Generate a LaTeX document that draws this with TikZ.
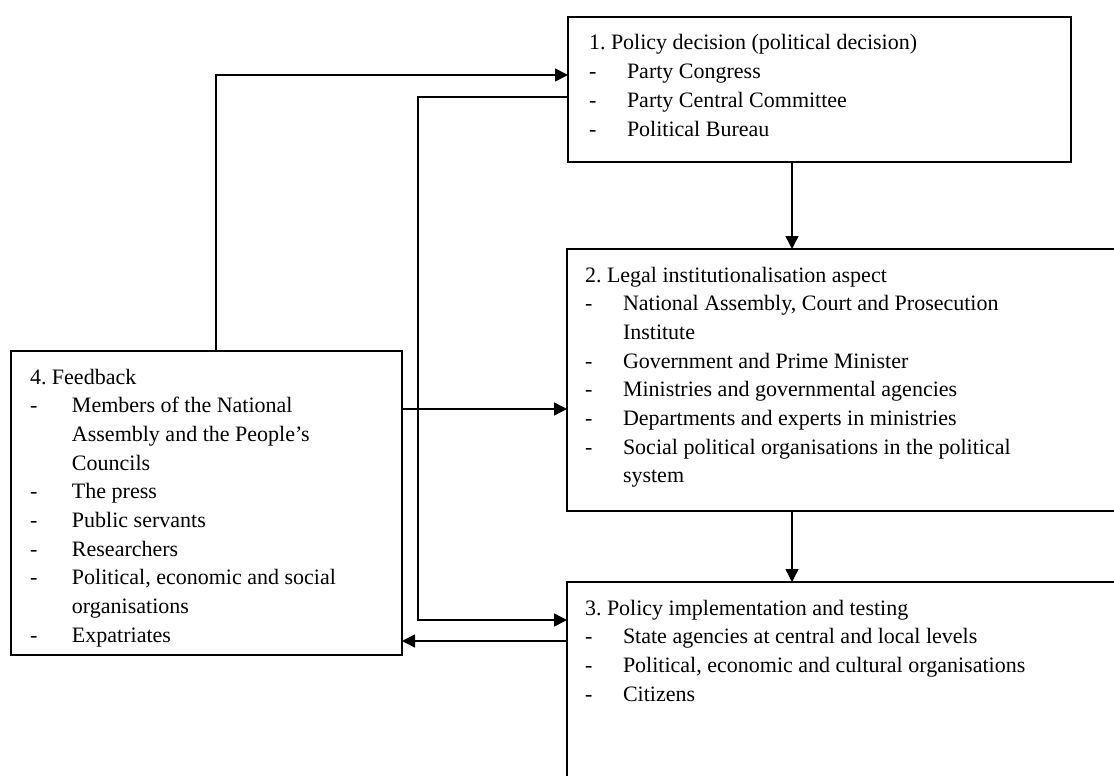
\documentclass[tikz,border=0pt]{standalone}
\usepackage{fontspec}
\setmainfont{Liberation Serif}
\usetikzlibrary{arrows.meta}
\frenchspacing
\newcommand\itm[2]{\makebox[#1][l]{-}#2}
\newcommand\cont[2]{\hspace*{#1}#2}
\tikzset{
  box/.style={draw, line width=2pt, inner sep=0pt, outer sep=0pt, anchor=north west},
  txt/.style={inner sep=0pt, outer sep=0pt, anchor=base west},
  arr/.style={line width=1.5pt, -{Triangle[length=13pt,width=13pt]}},
}
\begin{document}
\begin{tikzpicture}[x=1pt,y=-1pt]
\useasboundingbox (0,0) rectangle (1114,776);
\clip (0,0) rectangle (1114,776);
\fontsize{22}{28.7}\selectfont
% boxes
\node[box, minimum width=503pt, minimum height=145pt] (b1) at (568,17) {};
\node[box, minimum width=580pt, minimum height=262pt] (b2) at (567,249) {};
\node[box, minimum width=580pt, minimum height=240pt] (b3) at (567,582) {};
\node[box, minimum width=391pt, minimum height=304pt] (b4) at (11,351) {};
% texts
\node[txt] (t1) at (589,50) {\parbox[t]{470pt}{\fontsize{22}{28.7}\selectfont\frenchspacing
1. Policy decision (political decision)\\
\itm{38pt}{Party Congress}\\
\itm{38pt}{Party Central Committee}\\
\itm{38pt}{Political Bureau}}};
\node[txt] (t2) at (585,282) {\parbox[t]{520pt}{\fontsize{22}{28.7}\selectfont\frenchspacing
2. Legal institutionalisation aspect\\
\itm{38pt}{National Assembly, Court and Prosecution}\\
\cont{38pt}{Institute}\\
\itm{38pt}{Government and Prime Minister}\\
\itm{38pt}{Ministries and governmental agencies}\\
\itm{38pt}{Departments and experts in ministries}\\
\itm{38pt}{Social political organisations in the political}\\
\cont{38pt}{system}}};
\node[txt] (t3) at (585,615) {\parbox[t]{520pt}{\fontsize{22}{28.7}\selectfont\frenchspacing
3. Policy implementation and testing\\
\itm{38pt}{State agencies at central and local levels}\\
\itm{38pt}{Political, economic and cultural organisations}\\
\itm{38pt}{Citizens}}};
\node[txt] (t4) at (30,384) {\parbox[t]{370pt}{\fontsize{22}{28.7}\selectfont\frenchspacing
4. Feedback\\
\itm{42pt}{Members of the National}\\
\cont{42pt}{Assembly and the People's}\\
\cont{42pt}{Councils}\\
\itm{42pt}{The press}\\
\itm{42pt}{Public servants}\\
\itm{42pt}{Researchers}\\
\itm{42pt}{Political, economic and social}\\
\cont{42pt}{organisations}\\
\itm{42pt}{Expatriates}}};
% helper coordinates
\coordinate (vx) at (792,0);
\coordinate (fx) at (216,75);
\coordinate (lx) at (418,97);
\coordinate (ly) at (418,620);
\coordinate (my) at (0,409);
\coordinate (by) at (0,641);
% connectors
\draw[arr] (b1.south -| vx) -- (b2.north -| vx);
\draw[arr] (b2.south -| vx) -- (b3.north -| vx);
\draw[arr] (b4.north -| fx) |- (b1.west |- fx);
\draw[arr] (b1.west |- lx) -| (ly) -- (b3.west |- ly);
\draw[arr] (b4.east |- my) -- (b2.west |- my);
\draw[arr] (b3.west |- by) -- (b4.east |- by);
\end{tikzpicture}
\end{document}
